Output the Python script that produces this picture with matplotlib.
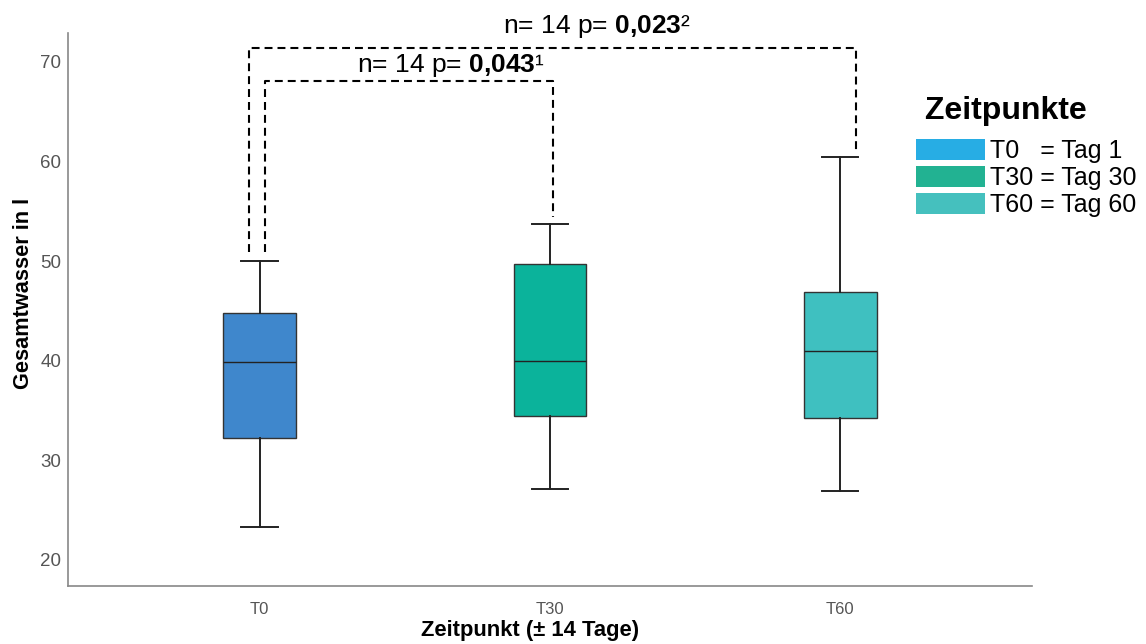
import numpy as np
import matplotlib.pyplot as plt
from matplotlib.patches import Patch

plt.rcParams['font.family'] = ['Liberation Sans', 'DejaVu Sans']
plt.rcParams['mathtext.fontset'] = 'custom'
plt.rcParams['mathtext.rm'] = 'Liberation Sans'
plt.rcParams['mathtext.bf'] = 'Liberation Sans:bold'

# box stats
groups = ['T0', 'T30', 'T60']
whislo = [23.3, 27.1, 26.9]
q1 = [32.2, 34.4, 34.2]
med = [39.9, 40.0, 41.0]
q3 = [44.8, 49.7, 46.9]
whishi = [50.0, 53.7, 60.4]

box_colors = ['#3f87cc', '#0bb39b', '#3fc0c0']
legend_colors = ['#27ade4', '#22b292', '#45c0be']
legend_labels = ['T0   = Tag 1', 'T30 = Tag 30', 'T60 = Tag 60']

fig = plt.figure(figsize=(11.46, 6.44), dpi=100)
ax = fig.add_axes([0.0593, 0.0905, 0.8412, 0.8583])

stats = []
for i in range(len(groups)):
    stats.append(dict(whislo=whislo[i], q1=q1[i], med=med[i], q3=q3[i],
                      whishi=whishi[i], fliers=[], label=groups[i]))

bp = ax.bxp(stats, positions=[0, 1, 2], widths=0.25, patch_artist=True,
            showfliers=False, capwidths=0.125,
            boxprops=dict(edgecolor='#333333', linewidth=1.0),
            medianprops=dict(color='#222222', linewidth=1.0),
            whiskerprops=dict(color='#222222', linewidth=1.4),
            capprops=dict(color='#222222', linewidth=1.4))
for patch, c in zip(bp['boxes'], box_colors):
    patch.set_facecolor(c)

ax.set_xlim(-0.66, 2.66)
ax.set_ylim(17.4, 72.9)
ax.set_yticks([20, 30, 40, 50, 60, 70])
ax.tick_params(axis='both', length=0, labelcolor='#555555')
ax.tick_params(axis='y', pad=5, labelsize=13.5)
ax.tick_params(axis='x', pad=12, labelsize=12)
for s in ['top', 'right']:
    ax.spines[s].set_visible(False)
for s in ['left', 'bottom']:
    ax.spines[s].set_color('#888888')
    ax.spines[s].set_linewidth(1.2)

ax.set_ylabel('Gesamtwasser in l', fontsize=15.7, fontweight='bold')
ax.yaxis.set_label_coords(-0.035, 0.529)
ax.set_xlabel('Zeitpunkt (± 14 Tage)', fontsize=15.8, fontweight='bold')
ax.xaxis.set_label_coords(0.479, -0.062)

# significance brackets
dash = (0, (3.8, 2.4))
ax.plot([-0.038, -0.038, 2.055, 2.055], [50.9, 71.4, 71.4, 61.0],
        color='black', lw=1.5, linestyle=dash, clip_on=False)
ax.plot([0.02, 0.02, 1.01, 1.01], [50.9, 68.1, 68.1, 54.4],
        color='black', lw=1.5, linestyle=dash, clip_on=False)

ax.text(1.16, 73.5, r'n= 14 p= $\mathbf{0{,}023}$²', ha='center', va='center',
        fontsize=19)
ax.text(0.66, 69.6, r'n= 14 p= $\mathbf{0{,}043}$¹', ha='center', va='center',
        fontsize=19)

handles = [Patch(facecolor=c, edgecolor='none') for c in legend_colors]
leg = fig.legend(handles, legend_labels, title=' Zeitpunkte', loc='upper left',
                 bbox_to_anchor=(0.7905, 0.866), frameon=False, fontsize=18,
                 title_fontproperties=dict(weight='bold', size=23),
                 handlelength=2.75, handleheight=0.95, labelspacing=0.1,
                 handletextpad=0.2, borderaxespad=0)
leg._legend_box.align = 'left'
leg._legend_box.sep = 9

fig.savefig('out.png', dpi=100)
